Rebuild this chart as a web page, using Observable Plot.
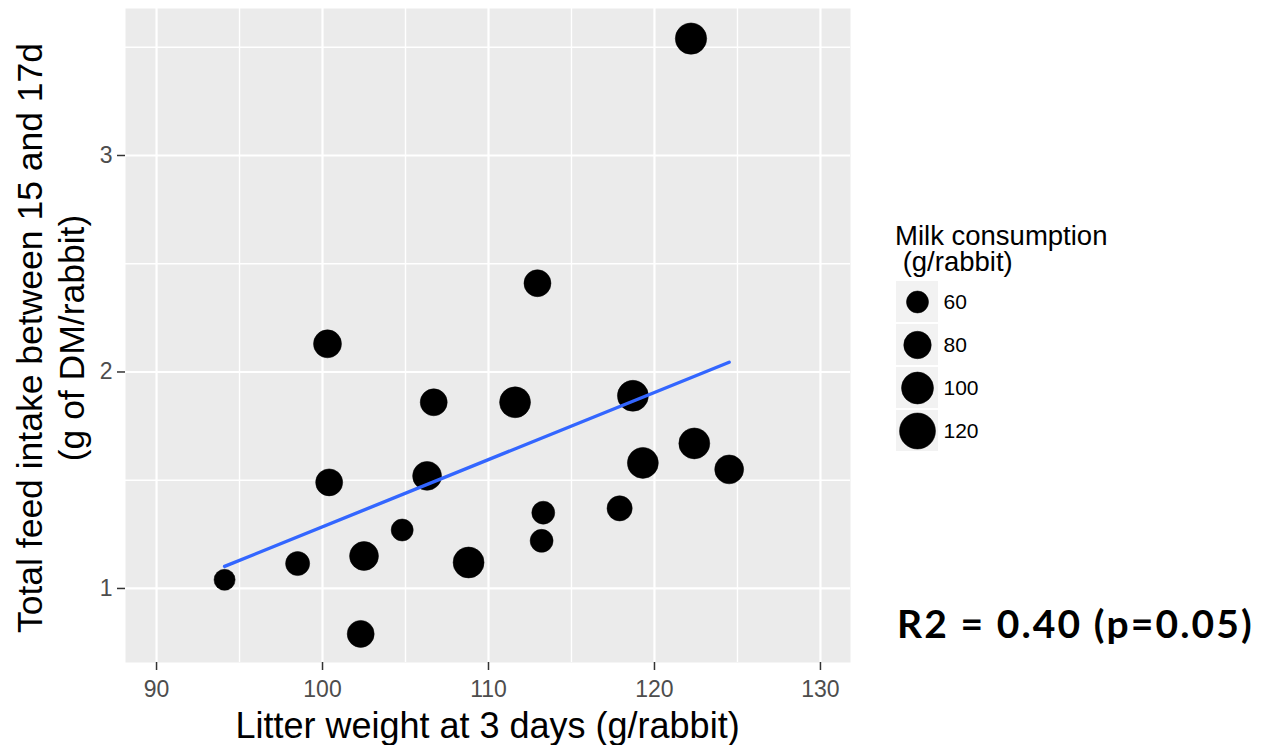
<!DOCTYPE html>
<html>
<head>
<meta charset="utf-8">
<script src="https://cdn.jsdelivr.net/npm/d3@7"></script>
<script src="https://cdn.jsdelivr.net/npm/@observablehq/plot@0.6"></script>
<style>
  html, body { margin: 0; padding: 0; background: #ffffff; }
  #wrap { position: relative; width: 1261px; height: 745px; overflow: hidden; font-family: "Liberation Sans", Arial, sans-serif; }
  #wrap svg { position: absolute; }
  .abs { position: absolute; white-space: pre; color: #000; }
</style>
</head>
<body>
<div id="wrap"></div>
<script>
// ---- data ----
const litterWeight = [94.1, 98.5, 100.3, 100.4, 102.3, 102.5, 104.8, 106.3, 106.7, 108.8,
                      111.6, 112.95, 113.2, 113.3, 117.9, 118.7, 119.3, 122.2, 122.4, 124.5];
const feedIntake   = [1.04, 1.115, 2.13, 1.49, 0.79, 1.15, 1.27, 1.52, 1.86, 1.12,
                      1.86, 2.41, 1.22, 1.35, 1.37, 1.89, 1.58, 3.54, 1.67, 1.55];
const milkConsumption = [57, 67, 82, 78, 78, 86, 60, 86, 78, 95,
                         95, 78, 63, 63, 71, 95, 95, 97, 95, 86];
const legendValues = [60, 80, 100, 120];
const xTicks = [90, 100, 110, 120, 130];
const xMinor = [95, 105, 115, 125];
const yTicks = [1, 2, 3];
const yMinor = [1.5, 2.5, 3.5];

const data = litterWeight.map((x, i) => ({x, y: feedIntake[i], milk: milkConsumption[i]}));
const sizeOffset = 24; // size scale starts at this milk value (area-linear mapping)
const rScale = {type: "sqrt", domain: [0, 96], range: [0, 18]};

const wrap = document.getElementById("wrap");

const main = Plot.plot({
  width: 860,
  height: 745,
  marginLeft: 125,
  marginRight: 10,
  marginTop: 8,
  marginBottom: 83,
  x: {domain: [88.13, 131.81]},
  y: {domain: [0.658, 3.679]},
  r: rScale,
  style: {fontFamily: "'Liberation Sans', Arial, sans-serif", fontSize: "23px", background: "transparent", overflow: "visible"},
  marks: [
    Plot.frame({fill: "#ebebeb", stroke: null}),
    Plot.gridX(xMinor, {stroke: "#ffffff", strokeOpacity: 1, strokeWidth: 1.4}),
    Plot.gridY(yMinor, {stroke: "#ffffff", strokeOpacity: 1, strokeWidth: 1.4}),
    Plot.gridX(xTicks, {stroke: "#ffffff", strokeOpacity: 1, strokeWidth: 2.2}),
    Plot.gridY(yTicks, {stroke: "#ffffff", strokeOpacity: 1, strokeWidth: 2.2}),
    Plot.axisX(xTicks, {tickSize: 8, tickPadding: 10, fontSize: 23, stroke: "#333333", fill: "#4d4d4d", label: null, strokeWidth: 1.5, tickFormat: d => String(d)}),
    Plot.axisY(yTicks, {tickSize: 8, tickPadding: 5, fontSize: 23, stroke: "#333333", fill: "#4d4d4d", label: null, strokeWidth: 1.5, tickFormat: d => String(d)}),
    Plot.dot(data, {x: "x", y: "y", r: d => d.milk - sizeOffset, fill: "#000000", stroke: "#000000", strokeWidth: 0.5}),
    Plot.linearRegressionY(data, {x: "x", y: "y", stroke: "#3366FF", strokeWidth: 3.4, ci: 0})
  ]
});
main.style.left = "0px";
main.style.top = "0px";
wrap.appendChild(main);

// legend keys
const legend = Plot.plot({
  width: 110,
  height: 170,
  margin: 0,
  x: {type: "band", domain: ["k"], range: [0, 42], padding: 0, axis: null},
  y: {type: "band", domain: legendValues, range: [0, 170], paddingInner: 0.047, paddingOuter: 0, axis: null},
  r: rScale,
  style: {fontFamily: "'Liberation Sans', Arial, sans-serif", fontSize: "21px", background: "transparent", overflow: "visible"},
  marks: [
    Plot.cell(legendValues, {x: () => "k", y: d => d, fill: "#f2f2f2", inset: 0}),
    Plot.dot(legendValues, {x: () => "k", y: d => d, r: d => d - sizeOffset, fill: "#000000", stroke: "#000000", strokeWidth: 0.5}),
    Plot.text(legendValues, {x: () => "k", y: d => d, text: d => String(d), dx: 26, textAnchor: "start", fontSize: 21, fill: "#000000"})
  ]
});
legend.style.left = "896px";
legend.style.top = "281px";
wrap.appendChild(legend);

function addText(txt, css) {
  const d = document.createElement("div");
  d.className = "abs";
  d.textContent = txt;
  Object.assign(d.style, css);
  wrap.appendChild(d);
  return d;
}

// x axis title
addText("Litter weight at 3 days (g/rabbit)", {
  left: "487.5px", top: "706px", transform: "translateX(-50%)",
  fontSize: "36px", lineHeight: "40px"
});

// y axis title (two lines, rotated)
addText("Total feed intake between 15 and 17d\n(g of DM/rabbit)", {
  left: "51px", top: "338px", transform: "translate(-50%, -50%) rotate(-90deg)",
  fontSize: "35.5px", lineHeight: "42px", textAlign: "center"
});

// legend title
addText("Milk consumption\n (g/rabbit)", {
  left: "895px", top: "223px", fontSize: "27.5px", lineHeight: "26px"
});

// annotation
addText("R2 = 0.40 (p=0.05)", {
  left: "897px", top: "604px", fontSize: "39px", lineHeight: "38px",
  fontFamily: "Lato, 'Open Sans', sans-serif", fontWeight: "700", letterSpacing: "2.1px"
});
</script>
</body>
</html>
